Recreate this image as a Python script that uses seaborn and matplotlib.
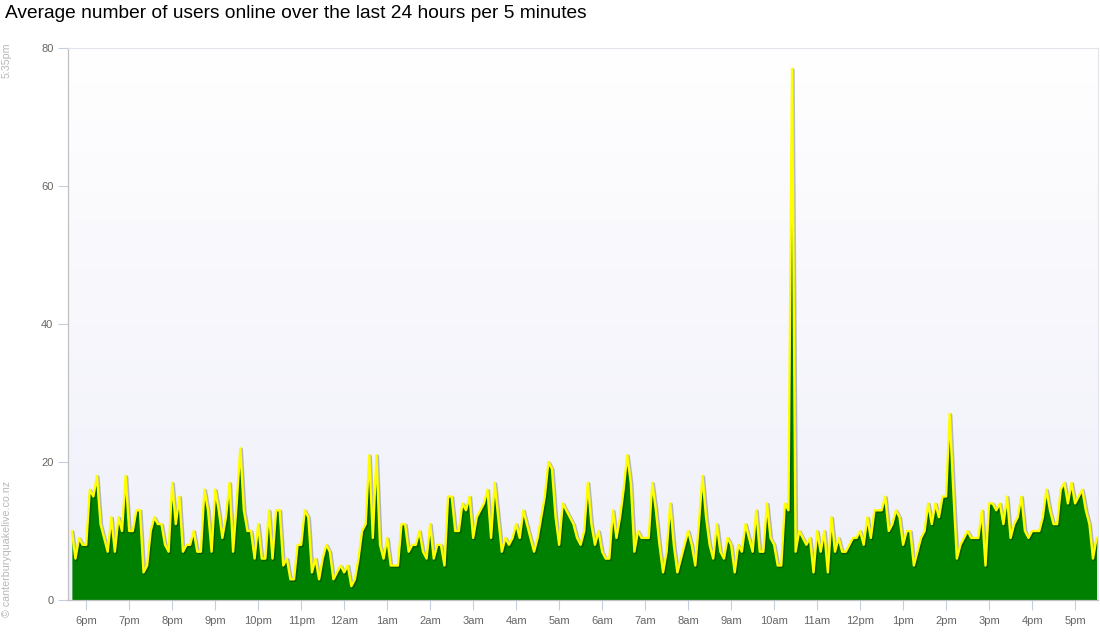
import matplotlib
matplotlib.use("Agg")
import matplotlib.pyplot as plt
import matplotlib.dates as mdates
import matplotlib.patheffects as pe
from matplotlib.colors import LinearSegmentedColormap
from matplotlib.ticker import FuncFormatter
import numpy as np
import pandas as pd
import seaborn as sns

TITLE = "Average number of users online over the last 24 hours per 5 minutes"
STAMP = "5:35pm"
CREDIT = "\u00a9 canterburyquakelive.co.nz"

START = "2013-01-01 17:40"
STEP = "5min"

# one value per 5 minutes
USERS = [
    # 5:40pm .. 8:30pm
    10, 6, 9, 8, 8, 16, 15, 18, 11, 9, 7, 12, 7, 12, 10, 18, 10, 10, 13, 13,
    4, 5, 10, 12, 11, 11, 8, 7, 17, 11, 15, 7, 8, 8, 10,
    # 8:35pm .. 11:30pm
    7, 7, 16, 13, 7, 16, 13, 9, 12, 17, 7, 14, 22, 13, 10, 10, 6, 11, 6, 6,
    13, 6, 13, 13, 5, 6, 3, 3, 8, 8, 13, 12, 4, 6, 3, 6,
    # 11:35pm .. 2:30am
    8, 7, 3, 4, 5, 4, 5, 2, 3, 6, 10, 11, 21, 9, 21, 8, 6, 9, 5, 5,
    5, 11, 11, 7, 8, 8, 10, 7, 6, 11, 6, 8, 8, 5, 15, 15,
    # 2:35am .. 5:25am
    10, 10, 14, 13, 15, 9, 12, 13, 14, 16, 9, 17, 12, 7, 9, 8, 9, 11, 9, 13,
    11, 9, 7, 9, 12, 15, 20, 19, 12, 8, 14, 13, 12, 11, 9,
    # 5:30am .. 8:35am
    8, 10, 17, 11, 8, 10, 7, 6, 6, 13, 9, 12, 16, 21, 17, 7, 10, 9, 9, 9,
    17, 13, 8, 4, 7, 14, 8, 4, 6, 8, 10, 8, 5, 11, 18, 12, 8, 6,
    # 8:40am .. 11:35am
    11, 7, 6, 9, 8, 4, 8, 7, 11, 9, 7, 13, 7, 7, 14, 9, 8, 5, 5, 14,
    13, 77, 7, 10, 9, 8, 9, 4, 10, 7, 10, 4, 12, 7, 9, 7,
    # 11:40am .. 2:35pm
    7, 8, 9, 9, 10, 8, 12, 9, 13, 13, 13, 15, 10, 11, 13, 12, 8, 10, 10, 5,
    7, 9, 10, 14, 11, 14, 12, 15, 15, 27, 16, 6, 8, 9, 10, 9,
    # 2:40pm .. 5:30pm
    9, 9, 13, 5, 14, 14, 13, 14, 11, 15, 9, 11, 12, 15, 10, 9, 10, 10, 10, 12,
    16, 13, 11, 11, 16, 17, 14, 17, 14, 15, 16, 13, 11, 6, 9,
]
Y_TICKS = [0, 20, 40, 60, 80]

times = pd.date_range(START, periods=len(USERS), freq=STEP)
df = pd.DataFrame({"time": times, "users": USERS})

sns.set_style("white")
plt.rcParams["font.family"] = ["Liberation Sans", "DejaVu Sans"]

fig = plt.figure(figsize=(11, 6.4), dpi=100)
ax = fig.add_axes([68 / 1100, 40 / 640, 1030 / 1100, 552 / 640])

# soft vertical gradient behind the plot
bg = LinearSegmentedColormap.from_list("bg", ["#ffffff", "#efeffa"])
ax.imshow(np.linspace(0, 1, 256).reshape(-1, 1), cmap=bg, extent=[0, 1, 0, 1],
          transform=ax.transAxes, aspect="auto", zorder=0)

ax.fill_between(df["time"], 0, df["users"], color="#008000", lw=0, zorder=2)
sns.lineplot(data=df, x="time", y="users", ax=ax, color="#ffff00", lw=1.7,
             zorder=3,
             path_effects=[pe.SimpleLineShadow(offset=(0.8, -0.8), shadow_color="#000000",
                                               alpha=0.25, linewidth=2.3),
                           pe.Normal()])

ax.set_xlim(times[0] - pd.Timedelta(minutes=5.4), times[-1] + pd.Timedelta(minutes=2))
ax.set_ylim(0, 80)
ax.set_yticks(Y_TICKS)
ax.set_xlabel("")
ax.set_ylabel("")

ax.xaxis.set_major_locator(mdates.HourLocator(tz=None))
ax.xaxis.set_major_formatter(FuncFormatter(
    lambda v, _: mdates.num2date(v).strftime("%I%p").lstrip("0").lower()))

ax.tick_params(axis="x", length=7.5, width=0.8, color="#c0d0e0", pad=4,
               labelsize=8, labelcolor="#666666", bottom=True)
ax.tick_params(axis="y", length=7.5, width=0.8, color="#c0d0e0", pad=3,
               labelsize=8, labelcolor="#666666", left=True)

for side in ["top", "right"]:
    ax.spines[side].set_color("#e4e4ec")
    ax.spines[side].set_linewidth(0.8)
ax.spines["left"].set_color("#c0c0c0")
ax.spines["bottom"].set_color("#c0c0c0")
ax.spines["left"].set_linewidth(0.9)
ax.spines["bottom"].set_linewidth(0.9)

fig.text(5 / 1100, 1 - 14 / 640, TITLE, fontsize=13.8, color="#000000",
         ha="left", va="center")
fig.text(7 / 1100, 1 - 42 / 640, STAMP, fontsize=7.7, color="#b8b8b8",
         rotation=90, ha="center", va="top")
fig.text(7 / 1100, 1 - 617 / 640, CREDIT, fontsize=7.7, color="#b8b8b8",
         rotation=90, ha="center", va="bottom")

fig.savefig("out.png", dpi=100)
